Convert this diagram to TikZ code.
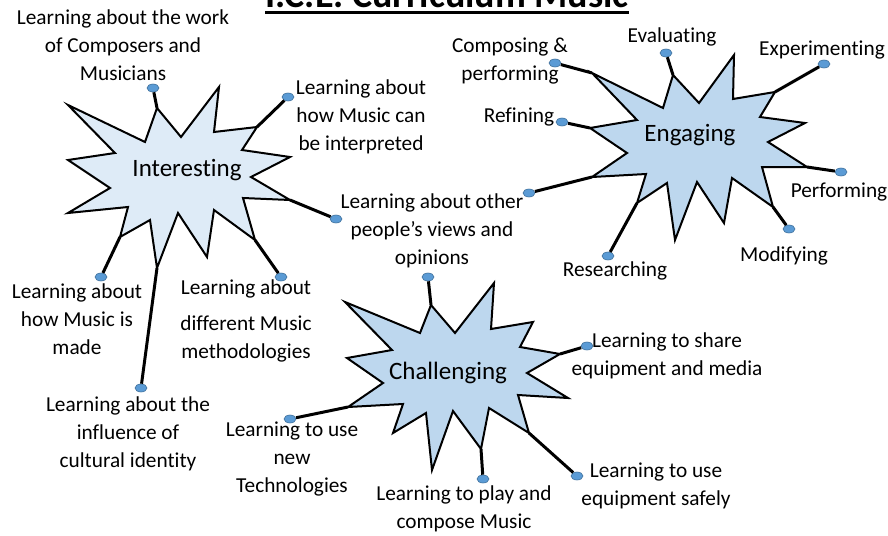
\documentclass[tikz,border=0pt]{standalone}
\usepackage{fontspec}
\setmainfont{Carlito}[Ligatures=NoCommon]
\usetikzlibrary{shapes.geometric}
\definecolor{paleblue}{HTML}{DEEBF7}
\definecolor{burstblue}{HTML}{BDD7EE}
\definecolor{pinblue}{HTML}{5B9BD5}
\definecolor{pinedge}{HTML}{41719C}

\begin{document}
\begin{tikzpicture}
[x=1pt,y=-1pt,
burst/.style={draw,line width=2pt,line join=miter},
link/.style={line width=3pt},
pin/.style={ellipse,fill=pinblue,draw=pinedge,line width=0.6pt,minimum width=12pt,minimum height=8pt,inner sep=0pt},
lbl/.style={align=center,inner sep=0pt,font=\fontsize{21.3}{28}\selectfont},
hub/.style={inner sep=0pt,font=\fontsize{25}{30}\selectfont}]
\useasboundingbox (0,0) rectangle (888,535);
\clip (0,0) rectangle (888,535);
\node[anchor=base,inner sep=0pt,font=\fontsize{38}{40}\selectfont\bfseries] (title) at (447,8) {I.C.E. Curriculum Music};
\draw[line width=2.5pt] ([yshift=-4.5pt]title.base west) -- ([yshift=-4.5pt]title.base east);

\draw[burst,fill=paleblue] (68,105) -- (145,142) -- (157,108) coordinate (i3) -- (181,137) -- (219,87)
	-- (214,132) -- (257,127) coordinate (i7) -- (242,150) -- (290,157) -- (251,177)
	-- (290,200) coordinate (i11) -- (243,198) -- (255,240) coordinate (i13) -- (214,210)
	-- (207,257) -- (178,213) -- (157,268) coordinate (i17) -- (150,220)
	-- (120,237) coordinate (i19) -- (128,207) -- (68,213) -- (110,188) -- (68,160) -- (115,153) -- cycle;
\draw[burst,fill=burstblue] (592,73) coordinate (e1) -- (663,108) -- (673,75) coordinate (e3) -- (699,103)
	-- (734,55) -- (733,99) -- (775,92) coordinate (e7) -- (760,117) -- (805,123) -- (768,142)
	-- (807,167) coordinate (e11) -- (762,167) -- (773,207) coordinate (e13) -- (732,178)
	-- (724,223) -- (697,182) -- (675,240) -- (667,183) -- (637,203) coordinate (e19)
	-- (646,174) -- (592,177) coordinate (e21) -- (627,153) -- (590,128) coordinate (e23) -- (637,120) -- cycle;
\draw[burst,fill=burstblue] (345,302) -- (420,333) -- (431,305) coordinate (c3) -- (455,333) -- (494,283)
	-- (491,329) -- (533,322) -- (520,347) -- (560,354) coordinate (c9) -- (527,373)
	-- (568,398) -- (518,395) -- (529,433) coordinate (c13) -- (489,408) -- (481,449) coordinate (c15)
	-- (453,411) -- (432,470) -- (426,413) -- (393,433) -- (403,404)
	-- (348,407) coordinate (c21) -- (383,383) -- (347,358) -- (392,350) -- cycle;

\node[hub] (interesting) at (187,170) {Interesting};
\node[hub] (engaging) at (690,135) {Engaging};
\node[hub] (challenging) at (448,373) {Challenging};

\node[pin] (pcomposers) at (153,88) {};
\node[pin] (pinterp) at (288,97) {};
\node[pin] (pviewsa) at (336,219) {};
\node[pin] (pmethod) at (281,277) {};
\node[pin] (pmade) at (101,277) {};
\node[pin] (pculture) at (141,388) {};
\node[pin] (pcompose) at (555,63) {};
\node[pin] (peval) at (666,53) {};
\node[pin] (pexper) at (824,64) {};
\node[pin] (prefine) at (562,122) {};
\node[pin] (pperform) at (841,172) {};
\node[pin] (pmodify) at (789,229) {};
\node[pin] (presearch) at (608,256) {};
\node[pin] (pviewsb) at (529,193) {};
\node[pin] (pviewsc) at (428,277) {};
\node[pin] (pshare) at (587,346) {};
\node[pin] (psafe) at (577,476) {};
\node[pin] (pplay) at (483,479) {};
\node[pin] (ptech) at (290,419) {};

\draw[link] (i3) -- (pcomposers);
\draw[link] (i7) -- (pinterp);
\draw[link] (i11) -- (pviewsa);
\draw[link] (i13) -- (pmethod);
\draw[link] (i19) -- (pmade);
\draw[link] (i17) -- (pculture);
\draw[link] (e1) -- (pcompose);
\draw[link] (e3) -- (peval);
\draw[link] (e7) -- (pexper);
\draw[link] (e23) -- (prefine);
\draw[link] (e11) -- (pperform);
\draw[link] (e13) -- (pmodify);
\draw[link] (e19) -- (presearch);
\draw[link] (e21) -- (pviewsb);
\draw[link] (c3) -- (pviewsc);
\draw[link] (c9) -- (pshare);
\draw[link] (c13) -- (psafe);
\draw[link] (c15) -- (pplay);
\draw[link] (c21) -- (ptech);

\node[lbl] (composers) at (123,45) {Learning about the work\\of Composers and\\Musicians};
\node[lbl] (interp) at (361,117) {Learning about\\how Music can\\be interpreted};
\node[lbl] (views) at (432,231) {Learning about other\\people’s views and\\opinions};
\node[lbl] (made) at (77,319) {Learning about\\how Music is\\made};
\node[lbl] (method) at (246,321) {Learning about\\[8pt]different Music\\methodologies};
\node[lbl] (culture) at (128,434) {Learning about the\\influence of\\cultural identity};
\node[lbl] (compose) at (510,61) {Composing \&\\performing};
\node[lbl] (eval) at (672,37) {Evaluating};
\node[lbl] (exper) at (822,50) {Experimenting};
\node[lbl] (refine) at (519,117) {Refining};
\node[lbl] (perform) at (839,192) {Performing};
\node[lbl] (modify) at (784,256) {Modifying};
\node[lbl] (research) at (615,271) {Researching};
\node[lbl] (share) at (667,356) {Learning to share\\equipment and media};
\node[lbl] (tech) at (292,459) {Learning to use\\new\\Technologies};
\node[lbl] (play) at (464,509) {Learning to play and\\compose Music};
\node[lbl] (safe) at (656,486) {Learning to use\\equipment safely};
\end{tikzpicture}
\end{document}
